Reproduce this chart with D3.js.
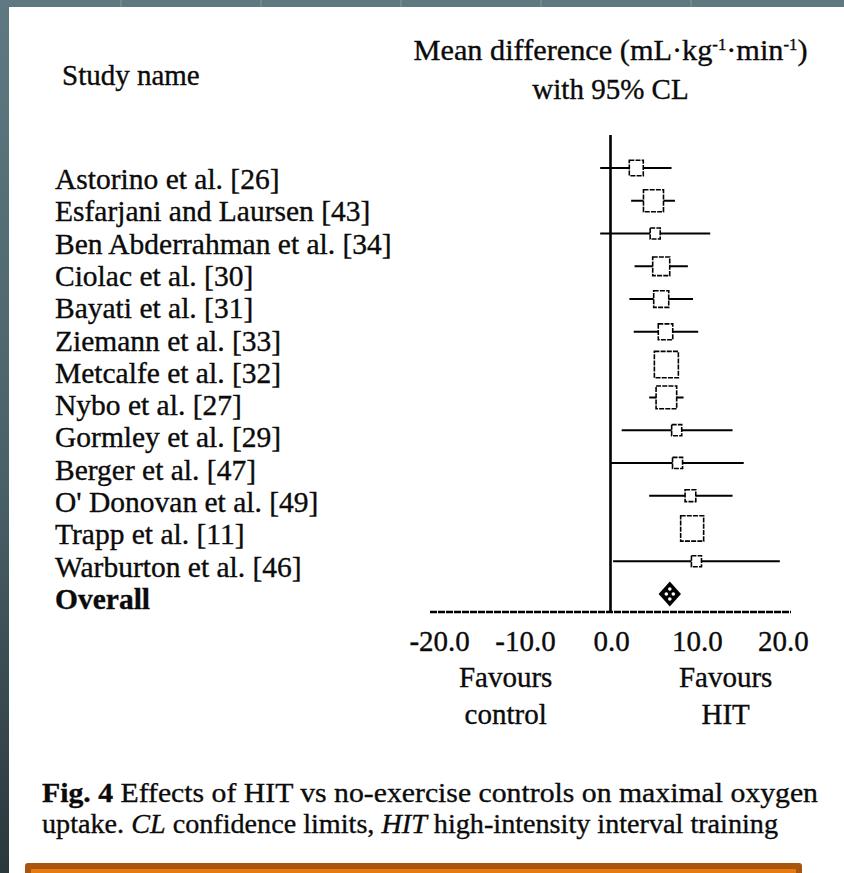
<!DOCTYPE html>
<html>
<head>
<meta charset="utf-8">
<script src="https://cdn.jsdelivr.net/npm/d3@7"></script>
<style>
  html, body { margin: 0; padding: 0; background: #ffffff; }
  svg { display: block; }
  text { font-family: "Liberation Serif", "Times New Roman", serif; fill: #0b0b0b; stroke: #0b0b0b; stroke-width: 0.35px; }
</style>
</head>
<body>
<svg id="chart" width="844" height="873"></svg>
<script>
// Study-level mean differences in VO2max (mL·kg-1·min-1), HIT vs no-exercise control
const studies = [
  "Astorino et al. [26]",
  "Esfarjani and Laursen [43]",
  "Ben Abderrahman et al. [34]",
  "Ciolac et al. [30]",
  "Bayati et al. [31]",
  "Ziemann et al. [33]",
  "Metcalfe et al. [32]",
  "Nybo et al. [27]",
  "Gormley et al. [29]",
  "Berger et al. [47]",
  "O' Donovan et al. [49]",
  "Trapp et al. [11]",
  "Warburton et al. [46]"
];
const meanDiff = [3.0, 5.0, 5.2, 5.9, 5.9, 6.4, 6.5, 6.5, 7.7, 7.8, 9.3, 9.5, 10.0];
const lowerCL  = [-1.2, 2.4, -1.2, 2.8, 2.2, 2.7, 5.6, 4.5, 1.3, 0.0, 4.5, 8.5, 0.3];
const upperCL  = [7.1, 7.5, 11.6, 9.0, 9.6, 10.2, 7.5, 8.5, 14.2, 15.5, 14.2, 10.5, 19.7];
// relative weight (%) of each study in the pooled estimate
const weights  = [5.8, 11.9, 3.0, 8.6, 6.7, 6.2, 17.1, 12.6, 3.0, 3.0, 3.4, 15.7, 3.0];

// pooled estimate
const overallLabel = "Overall";
const overallMean = 6.9;
const overallLower = 5.6;
const overallUpper = 8.2;

const xTicks = [-20, -10, 0, 10, 20];
const xDomain = [-21, 21];

const svg = d3.select("#chart");
const W = 844, H = 873;

// slide backdrop and white figure panel
const defs = svg.append("defs");
const grad = defs.append("linearGradient").attr("id", "slate")
  .attr("x1", 0).attr("y1", 0).attr("x2", 0).attr("y2", 1);
grad.append("stop").attr("offset", "0%").attr("stop-color", "#5f7982");
grad.append("stop").attr("offset", "55%").attr("stop-color", "#4a6068");
grad.append("stop").attr("offset", "100%").attr("stop-color", "#2b383d");
svg.append("rect").attr("width", W).attr("height", H).attr("fill", "url(#slate)");
[120, 260, 400, 540, 690].forEach(gx => {
  svg.append("rect").attr("x", gx).attr("y", 0).attr("width", 2).attr("height", 7)
    .attr("fill", "#6f8890");
});
svg.append("rect").attr("x", 9).attr("y", 7).attr("width", W - 9).attr("height", H - 7)
  .attr("fill", "#ffffff");

// scales
const x = d3.scaleLinear().domain(xDomain).range([430, 791]);
const rows = studies.concat([overallLabel]);
const y = d3.scalePoint().domain(rows).range([168, 594]);          // marker rows
const yLabel = d3.scalePoint().domain(rows).range([189, 609]);     // label baselines
const side = d3.scaleSqrt().domain([0, d3.max(weights)]).range([0, 24]);
const fmt = v => v.toFixed(1);

// headers
svg.append("text").attr("x", 62).attr("y", 85).attr("font-size", 29).text("Study name");
const h1 = svg.append("text").attr("x", x(0)).attr("y", 60)
  .attr("text-anchor", "middle").attr("font-size", 29)
  .attr("textLength", 394).attr("lengthAdjust", "spacingAndGlyphs");
h1.append("tspan").text("Mean difference (mL·kg");
h1.append("tspan").attr("font-size", 16).attr("dy", -10).text("-1");
h1.append("tspan").attr("dy", 10).text("·min");
h1.append("tspan").attr("font-size", 16).attr("dy", -10).text("-1");
h1.append("tspan").attr("dy", 10).text(")");
svg.append("text").attr("x", x(0)).attr("y", 99)
  .attr("text-anchor", "middle").attr("font-size", 29).text("with 95% CL");

// study labels
svg.selectAll("text.study").data(rows).join("text")
  .attr("class", "study")
  .attr("x", 55)
  .attr("y", d => yLabel(d))
  .attr("font-size", 29.5)
  .attr("font-weight", d => d === overallLabel ? "bold" : null)
  .text(d => d);

// zero reference line
svg.append("line")
  .attr("x1", x(0)).attr("x2", x(0))
  .attr("y1", 135).attr("y2", 612)
  .attr("stroke", "#000").attr("stroke-width", 2.6);

// x axis baseline
svg.append("line")
  .attr("x1", x(xDomain[0])).attr("x2", x(xDomain[1]))
  .attr("y1", 612).attr("y2", 612)
  .attr("stroke", "#000").attr("stroke-width", 2.6)
  .attr("stroke-dasharray", "7,1");

// tick labels
svg.selectAll("text.tick").data(xTicks).join("text")
  .attr("class", "tick")
  .attr("x", d => x(d) + 1)
  .attr("y", 651)
  .attr("text-anchor", "middle")
  .attr("font-size", 29)
  .text(d => fmt(d));

// favour labels
const fav = [
  { lines: ["Favours", "control"], at: -12.2 },
  { lines: ["Favours", "HIT"], at: 13.4 }
];
fav.forEach(f => {
  f.lines.forEach((ln, i) => {
    svg.append("text").attr("x", x(f.at)).attr("y", 687 + i * 37)
      .attr("text-anchor", "middle").attr("font-size", 29).text(ln);
  });
});

// confidence intervals and weighted squares
const g = svg.append("g");
studies.forEach((s, i) => {
  const cy = y(s);
  g.append("line")
    .attr("x1", x(lowerCL[i])).attr("x2", x(upperCL[i]))
    .attr("y1", cy).attr("y2", cy)
    .attr("stroke", "#000").attr("stroke-width", 2);
  const w = side(weights[i]);
  const hgt = w * 1.1;
  g.append("rect")
    .attr("x", x(meanDiff[i]) - w / 2).attr("y", cy - hgt / 2)
    .attr("width", w).attr("height", hgt)
    .attr("fill", "#fff").attr("stroke", "#000").attr("stroke-width", 1.6)
    .attr("stroke-dasharray", "5,1.2");
});

// pooled diamond
const oy = y(overallLabel);
const halfH = 12.5;
g.append("path")
  .attr("d", `M${x(overallLower)},${oy} L${x(overallMean)},${oy - halfH} L${x(overallUpper)},${oy} L${x(overallMean)},${oy + halfH} Z`)
  .attr("fill", "#000");
[[0, -5], [-3.5, 0], [3.5, 0], [0, 5]].forEach(([dx, dy]) => {
  g.append("circle").attr("cx", x(overallMean) + dx).attr("cy", oy + dy).attr("r", 1.8).attr("fill", "#fff");
});

// caption
const cap1 = svg.append("text").attr("x", 42).attr("y", 802).attr("font-size", 27.5)
  .attr("textLength", 776).attr("lengthAdjust", "spacingAndGlyphs");
cap1.append("tspan").attr("font-weight", "bold").text("Fig. 4");
cap1.append("tspan").text(" Effects of HIT vs no-exercise controls on maximal oxygen");
const cap2 = svg.append("text").attr("x", 42).attr("y", 833).attr("font-size", 27.5)
  .attr("textLength", 736).attr("lengthAdjust", "spacingAndGlyphs");
cap2.append("tspan").text("uptake. ");
cap2.append("tspan").attr("font-style", "italic").text("CL");
cap2.append("tspan").text(" confidence limits, ");
cap2.append("tspan").attr("font-style", "italic").text("HIT");
cap2.append("tspan").text(" high-intensity interval training");

// orange banner strip at the foot
svg.append("rect").attr("x", 25).attr("y", 863).attr("width", 777).attr("height", 24)
  .attr("rx", 3).attr("fill", "#a8550d");
svg.append("rect").attr("x", 31).attr("y", 869).attr("width", 765).attr("height", 20)
  .attr("fill", "#e77b0e");
</script>
</body>
</html>
